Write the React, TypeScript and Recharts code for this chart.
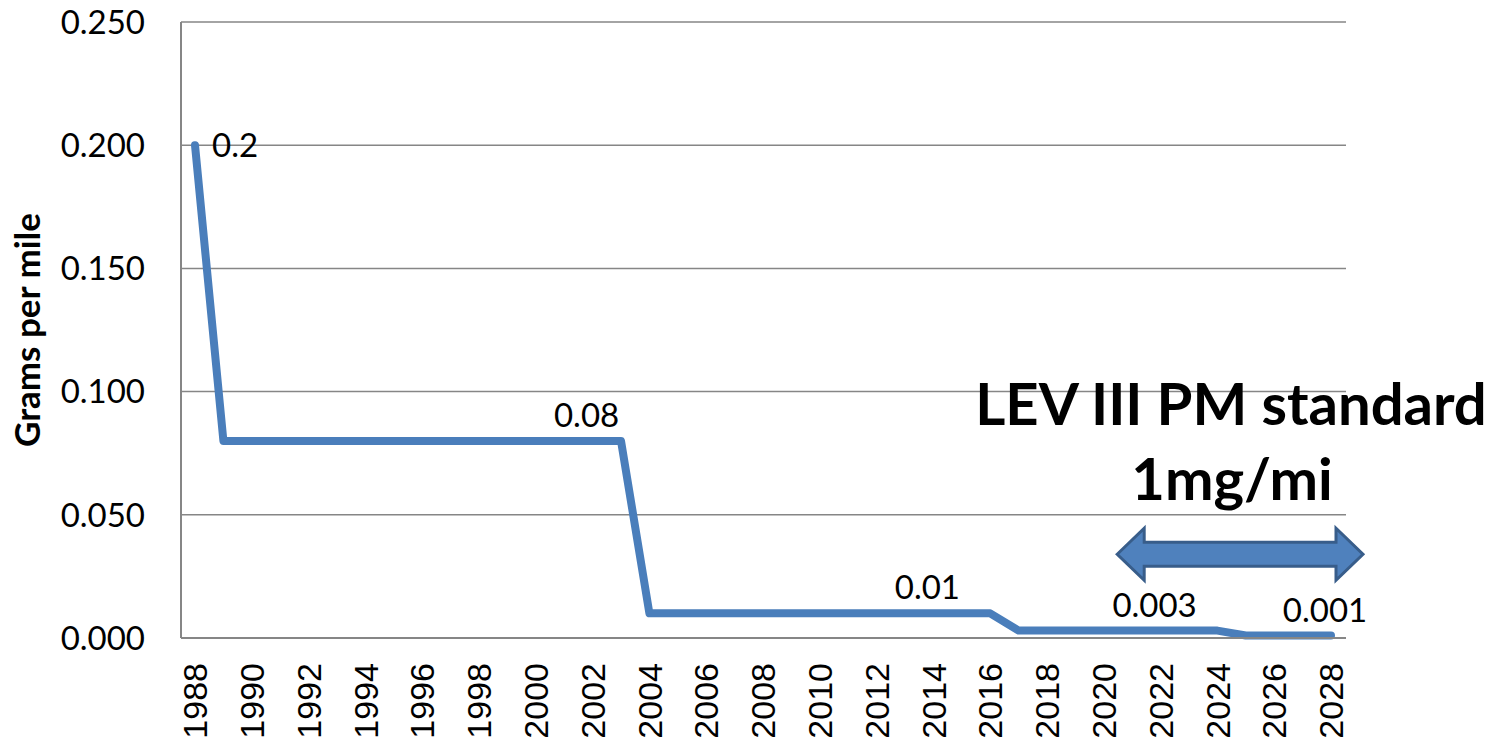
import React from "react";
import {
  LineChart,
  Line,
  CartesianGrid,
  XAxis,
  YAxis,
  LabelList,
  ReferenceLine,
  Customized,
} from "recharts";

// model years and PM standard (grams per mile)
const years = [
  1988, 1989, 1990, 1991, 1992, 1993, 1994, 1995, 1996, 1997, 1998, 1999, 2000, 2001,
  2002, 2003, 2004, 2005, 2006, 2007, 2008, 2009, 2010, 2011, 2012, 2013, 2014, 2015,
  2016, 2017, 2018, 2019, 2020, 2021, 2022, 2023, 2024, 2025, 2026, 2027, 2028,
];
const pmStandard = [
  0.2, 0.08, 0.08, 0.08, 0.08, 0.08, 0.08, 0.08, 0.08, 0.08, 0.08, 0.08, 0.08, 0.08,
  0.08, 0.08, 0.01, 0.01, 0.01, 0.01, 0.01, 0.01, 0.01, 0.01, 0.01, 0.01, 0.01, 0.01,
  0.01, 0.003, 0.003, 0.003, 0.003, 0.003, 0.003, 0.003, 0.003, 0.001, 0.001, 0.001, 0.001,
];
const labelledYears = [1988, 2002, 2014, 2022, 2028];
const yTicks = [0, 0.05, 0.1, 0.15, 0.2, 0.25];
const arrowFrom = 2021;
const arrowTo = 2028;
const arrowLevel = 0.034;

const data = years.map((year, i) => ({ year, pm: pmStandard[i] }));

const BLUE = "#4a7ebb";
const GRID = "#868686";

function XTick(props: any) {
  const { x, y, payload } = props;
  const ty = y + 17;
  return (
    <text
      x={x}
      y={ty}
      transform={`rotate(-90 ${x} ${ty})`}
      textAnchor="end"
      dy="0.36em"
      fontFamily="Liberation Sans, Arial, sans-serif"
      fontSize={34}
      fill="#000"
    >
      {payload.value}
    </text>
  );
}

function PointLabel(props: any) {
  const { x, y, value, index } = props;
  const year = years[index];
  if (!labelledYears.includes(year)) return null;
  const first = index === 0;
  return (
    <text
      x={first ? x + 17 : x - 6}
      y={first ? y + 12 : y - 14}
      textAnchor={first ? "start" : "middle"}
      fontFamily="Lato, sans-serif"
      fontSize={33}
      fill="#000"
    >
      {String(value)}
    </text>
  );
}

function DoubleArrow(props: any) {
  const { x1, x2, y1 } = props;
  const left = x1 - 15;
  const right = x2 + 32;
  const head = 27;
  const shaft = 12;
  const wing = 26;
  const y = y1;
  const d = [
    `M${left},${y}`,
    `L${left + head},${y - wing}`,
    `L${left + head},${y - shaft}`,
    `L${right - head},${y - shaft}`,
    `L${right - head},${y - wing}`,
    `L${right},${y}`,
    `L${right - head},${y + wing}`,
    `L${right - head},${y + shaft}`,
    `L${left + head},${y + shaft}`,
    `L${left + head},${y + wing}`,
    "Z",
  ].join(" ");
  return <path d={d} fill="#4f81bd" stroke="#385d8a" strokeWidth={3} />;
}

function Annotations() {
  return (
    <g fontFamily="Lato, sans-serif" fontWeight="bold" fill="#000">
      <text x={1231} y={425} textAnchor="middle" fontSize={58}>
        LEV III PM standard
      </text>
      <text x={1232} y={500} textAnchor="middle" fontSize={58}>
        1mg/mi
      </text>
      <text
        x={40}
        y={330}
        transform="rotate(-90 40 330)"
        textAnchor="middle"
        fontSize={35}
      >
        Grams per mile
      </text>
    </g>
  );
}

export default function App() {
  return (
    <div style={{ position: "absolute", left: 0, top: 0, background: "#fff" }}>
      <LineChart
        width={1504}
        height={741}
        data={data}
        margin={{ top: 22, right: 158, left: 0, bottom: 0 }}
      >
        <CartesianGrid vertical={false} stroke={GRID} strokeWidth={1.5} />
        <XAxis
          dataKey="year"
          type="category"
          interval={1}
          height={103}
          padding={{ left: 14, right: 15 }}
          stroke={GRID}
          strokeWidth={2}
          tickLine={false}
          tick={<XTick />}
        />
        <YAxis
          domain={[0, 0.25]}
          ticks={yTicks}
          width={181}
          stroke={GRID}
          strokeWidth={2}
          tickLine={false}
          tickSize={0}
          tickMargin={36}
          tickFormatter={(v: number) => v.toFixed(3)}
          tick={{ fontFamily: "Lato, sans-serif", fontSize: 33, fill: "#000" }}
        />
        <Line
          type="linear"
          dataKey="pm"
          stroke={BLUE}
          strokeWidth={8}
          strokeLinecap="round"
          strokeLinejoin="round"
          dot={false}
          isAnimationActive={false}
        >
          <LabelList dataKey="pm" content={<PointLabel />} />
        </Line>
        <ReferenceLine
          segment={[
            { x: arrowFrom, y: arrowLevel },
            { x: arrowTo, y: arrowLevel },
          ]}
          shape={<DoubleArrow />}
        />
        <Customized component={Annotations} />
      </LineChart>
    </div>
  );
}
